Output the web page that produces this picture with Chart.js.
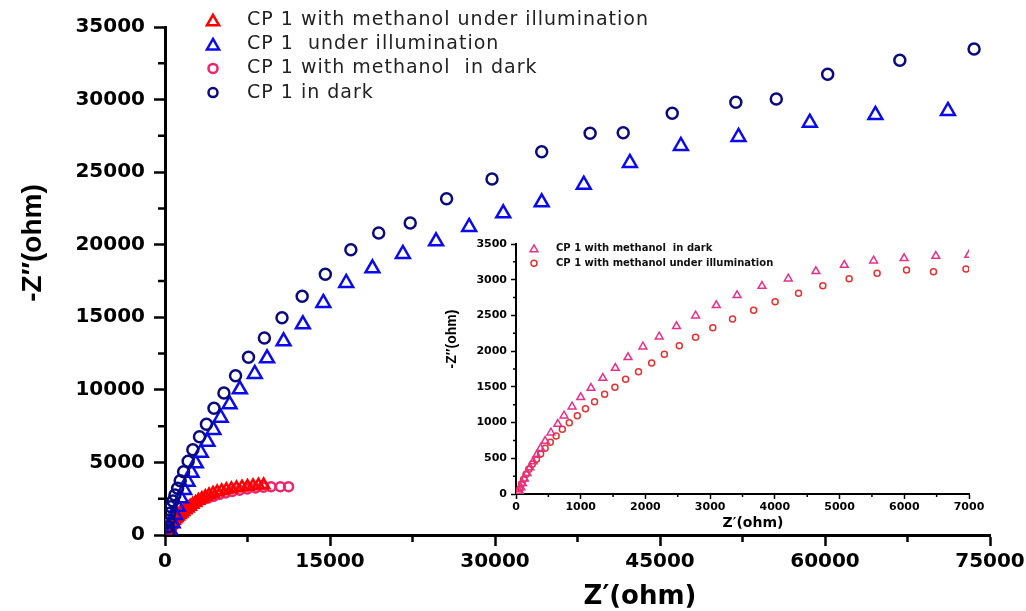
<!DOCTYPE html>
<html>
<head>
<meta charset="utf-8">
<script src="https://cdn.jsdelivr.net/npm/chart.js@4.4.0/dist/chart.umd.min.js"></script>
<style>
  html, body { margin: 0; padding: 0; background: #fff; }
  #wrap { position: relative; width: 1026px; height: 611px; }
  #mainChart { position: absolute; left: 0; top: 0; }
  #insetChart { position: absolute; left: 420px; top: 225px; }
</style>
</head>
<body>
<div id="wrap">
  <canvas id="mainChart" width="1026" height="611"></canvas>
  <canvas id="insetChart" width="590" height="310"></canvas>
</div>
<script>
// main plot: Z' (ohm) against -Z'' (ohm)
const methIllumZre = [48, 60, 85, 118, 155, 198, 251, 316, 380, 450, 530, 620, 716, 823, 947, 1074, 1214, 1369, 1528, 1694, 1893, 2096, 2292, 2523, 2775, 3041, 3346, 3672, 4004, 4366, 4741, 5148, 5580, 6034, 6500, 7000, 7500, 8000, 8500, 8970];
const methIllumZim = [10, 70, 140, 206, 276, 346, 416, 486, 560, 640, 724, 812, 906, 998, 1096, 1194, 1292, 1396, 1494, 1606, 1720, 1850, 1970, 2100, 2230, 2370, 2500, 2630, 2750, 2860, 2960, 3040, 3110, 3170, 3230, 3290, 3340, 3380, 3420, 3440];

const illumZre = [542, 696, 904, 1148, 1446, 1744, 2051, 2413, 2801, 3253, 3858, 4401, 5060, 5873, 6804, 8160, 9280, 10780, 12533, 14394, 16473, 18858, 21624, 24641, 27650, 30750, 34246, 38068, 42261, 46897, 52138, 58617, 64581, 71177];
const illumZim = [227, 806, 1378, 1950, 2529, 3101, 3672, 4292, 4940, 5671, 6428, 7235, 8082, 9005, 10039, 11093, 12175, 13346, 14517, 15985, 17363, 18376, 19361, 20236, 21221, 22165, 22923, 24136, 25630, 26802, 27422, 28407, 28938, 29214];

const methDarkZre = [50, 80, 125, 170, 235, 300, 385, 470, 575, 690, 825, 970, 1140, 1330, 1545, 1780, 2050, 2350, 2690, 3060, 3470, 3920, 4410, 4940, 5510, 6120, 6780, 7480, 8230, 8950, 9640, 10480, 11230];
const methDarkZim = [60, 160, 265, 390, 505, 630, 745, 870, 985, 1110, 1225, 1350, 1465, 1590, 1705, 1830, 1945, 2070, 2185, 2310, 2425, 2550, 2665, 2790, 2895, 3000, 3085, 3170, 3235, 3290, 3325, 3328, 3330];

const darkZre = [296, 296, 361, 425, 542, 723, 904, 1148, 1383, 1690, 2105, 2530, 3136, 3768, 4455, 5358, 6416, 7590, 9036, 10636, 12470, 14575, 16897, 19427, 22292, 25599, 29728, 34246, 38647, 41656, 46111, 51894, 55571, 60243, 66803, 73553];
const darkZim = [138, 572, 1033, 1498, 1950, 2343, 2756, 3218, 3741, 4361, 5078, 5877, 6773, 7627, 8730, 9784, 10976, 12244, 13573, 14972, 16446, 17962, 19657, 20808, 21497, 23171, 24528, 26409, 27677, 27718, 29055, 29813, 30040, 31742, 32707, 33485];

// inset: the two methanol runs on a smaller scale
const insetDarkZre = [55, 75, 100, 130, 170, 215, 265, 320, 380, 450, 539, 646, 742, 866, 1000, 1159, 1342, 1535, 1731, 1961, 2213, 2480, 2775, 3095, 3416, 3801, 4207, 4634, 5073, 5526, 5997, 6487, 6997];
const insetDarkZim = [35, 90, 150, 215, 290, 370, 455, 545, 640, 742, 858, 980, 1096, 1222, 1354, 1484, 1624, 1764, 1914, 2062, 2202, 2348, 2496, 2642, 2782, 2912, 3014, 3118, 3206, 3266, 3300, 3332, 3346];

const insetIllumZre = [48, 59, 85, 118, 155, 198, 251, 316, 380, 450, 530, 620, 716, 823, 947, 1074, 1214, 1369, 1528, 1694, 1893, 2096, 2292, 2523, 2775, 3041, 3346, 3672, 4004, 4366, 4741, 5148, 5580, 6034, 6451, 6953];
const insetIllumZim = [10, 70, 140, 206, 276, 346, 416, 486, 560, 640, 724, 812, 906, 998, 1096, 1194, 1292, 1396, 1494, 1606, 1712, 1834, 1956, 2076, 2194, 2328, 2450, 2572, 2692, 2810, 2916, 3014, 3090, 3136, 3112, 3150];

const xTitle = 'Z\u2032(ohm)';
const yTitle = '-Z\u2033(ohm)';

function toPoints(xs, ys) {
    return xs.map((x, i) => ({ x: x, y: ys[i] }));
}

// minor ticks, legend inside the plot and free-standing axis titles
const extras = {
    id: 'extras',
    afterDraw(chart, args, opts) {
        const ctx = chart.ctx;
        ctx.save();

        ctx.strokeStyle = '#000';
        ctx.lineWidth = opts.minorWidth;
        Object.values(chart.scales).forEach(scale => {
            const t = scale.ticks;
            ctx.beginPath();
            for (let i = 0; i < t.length - 1; i++) {
                const p = scale.getPixelForValue((t[i].value + t[i + 1].value) / 2);
                if (scale.isHorizontal()) {
                    ctx.moveTo(p, scale.top);
                    ctx.lineTo(p, scale.top + opts.minorLength);
                } else {
                    ctx.moveTo(scale.right - opts.minorLength, p);
                    ctx.lineTo(scale.right, p);
                }
            }
            ctx.stroke();
        });

        const lg = opts.legend;
        ctx.font = lg.font;
        ctx.textAlign = 'left';
        ctx.textBaseline = 'middle';
        ctx.letterSpacing = lg.letterSpacing;
        chart.data.datasets.forEach((ds, i) => {
            const y = lg.top + i * lg.rowGap;
            const r = lg.radius[ds.pointStyle];
            ctx.strokeStyle = ds.borderColor;
            ctx.fillStyle = 'rgba(0,0,0,0)';
            ctx.lineWidth = lg.borderWidth;
            const dy = ds.pointStyle === 'triangle' ? r / 4 : 0;
            Chart.helpers.drawPoint(ctx, { pointStyle: ds.pointStyle, radius: r, borderWidth: lg.borderWidth, rotation: 0 }, lg.left, y + dy);
            ctx.fillStyle = lg.color;
            ctx.fillText(ds.label, lg.textLeft, y);
        });
        ctx.letterSpacing = '0px';

        opts.titles.forEach(t => {
            ctx.save();
            ctx.font = t.font;
            ctx.fillStyle = '#000';
            ctx.textAlign = 'center';
            ctx.textBaseline = 'middle';
            ctx.translate(t.x, t.y);
            if (t.rotate) ctx.rotate(-Math.PI / 2);
            ctx.fillText(t.text, 0, 0);
            ctx.restore();
        });

        ctx.restore();
    }
};

// fixed axis box, no extra room for overhanging end labels
function fixBox(size) {
    return s => {
        if (s.isHorizontal()) s.height = size; else s.width = size;
        s.paddingLeft = 0;
        s.paddingRight = 0;
        s.paddingTop = 0;
        s.paddingBottom = 0;
    };
}

function axis(min, max, step, boxSize, size, tickLen, tickW, borderW, pad) {
    return {
        type: 'linear',
        min: min,
        max: max,
        afterFit: fixBox(boxSize),
        border: { color: '#000', width: borderW },
        grid: { drawOnChartArea: false, tickLength: tickLen, tickWidth: tickW, tickColor: '#000' },
        ticks: {
            stepSize: step,
            autoSkip: false,
            maxRotation: 0,
            padding: pad,
            color: '#000',
            font: { family: 'DejaVu Sans', weight: 'bold', size: size },
            callback: v => String(v)
        }
    };
}

new Chart(document.getElementById('mainChart'), {
    type: 'scatter',
    data: {
        datasets: [
            {
                label: 'CP 1 with methanol under illumination',
                data: toPoints(methIllumZre, methIllumZim),
                pointStyle: 'triangle', pointRadius: 6.5, borderWidth: 2.5,
                borderColor: '#ff0000', backgroundColor: 'rgba(0,0,0,0)', order: 2
            },
            {
                label: 'CP 1  under illumination',
                data: toPoints(illumZre, illumZim),
                pointStyle: 'triangle', pointRadius: 8, borderWidth: 2.5,
                borderColor: '#0a0af0', backgroundColor: 'rgba(0,0,0,0)', order: 1
            },
            {
                label: 'CP 1 with methanol  in dark',
                data: toPoints(methDarkZre, methDarkZim),
                pointStyle: 'circle', pointRadius: 4.5, borderWidth: 2.5,
                borderColor: '#f2246e', backgroundColor: 'rgba(0,0,0,0)', order: 3
            },
            {
                label: 'CP 1 in dark',
                data: toPoints(darkZre, darkZim),
                pointStyle: 'circle', pointRadius: 5.5, borderWidth: 2.5,
                borderColor: '#0a0a80', backgroundColor: 'rgba(0,0,0,0)', order: 0
            }
        ]
    },
    options: {
        responsive: false,
        animation: false,
        layout: { padding: { top: 27, right: 36, left: 0, bottom: 0 } },
        plugins: {
            legend: { display: false },
            tooltip: { enabled: false },
            extras: {
                minorLength: 7,
                minorWidth: 2.5,
                legend: {
                    left: 213, textLeft: 247, top: 20, rowGap: 24.2,
                    font: '19px "DejaVu Sans"', letterSpacing: '1px', color: '#222',
                    radius: { triangle: 7, circle: 4.5 }, borderWidth: 2.5
                },
                titles: [
                    { text: xTitle, x: 640, y: 597, font: 'bold 26px "DejaVu Sans"' },
                    { text: yTitle, x: 33, y: 243, rotate: true, font: 'bold 28px "Liberation Sans"' }
                ]
            }
        },
        scales: {
            x: axis(0, 75000, 15000, 76, 20, 11, 2.5, 3, 4),
            y: axis(0, 35000, 5000, 165, 20, 11, 2.5, 3, 9)
        }
    },
    plugins: [extras]
});

new Chart(document.getElementById('insetChart'), {
    type: 'scatter',
    data: {
        datasets: [
            {
                label: 'CP 1 with methanol  in dark',
                data: toPoints(insetDarkZre, insetDarkZim),
                pointStyle: 'triangle', pointRadius: 4.5, borderWidth: 1.5,
                borderColor: '#e8308a', backgroundColor: 'rgba(0,0,0,0)'
            },
            {
                label: 'CP 1 with methanol under illumination',
                data: toPoints(insetIllumZre, insetIllumZim),
                pointStyle: 'circle', pointRadius: 3, borderWidth: 1.5,
                borderColor: '#e83030', backgroundColor: 'rgba(0,0,0,0)'
            }
        ]
    },
    options: {
        responsive: false,
        animation: false,
        layout: { padding: { top: 19, right: 41, left: 0, bottom: 0 } },
        plugins: {
            legend: { display: false },
            tooltip: { enabled: false },
            extras: {
                minorLength: 3,
                minorWidth: 1.5,
                legend: {
                    left: 114, textLeft: 136, top: 23.3, rowGap: 15,
                    font: 'bold 10px "DejaVu Sans"', letterSpacing: '0px', color: '#111',
                    radius: { triangle: 4.5, circle: 3 }, borderWidth: 1.5
                },
                titles: [
                    { text: xTitle, x: 333, y: 298, font: 'bold 14px "DejaVu Sans"' },
                    { text: yTitle, x: 32, y: 114, rotate: true, font: 'bold 14px "Liberation Sans"' }
                ]
            }
        },
        scales: {
            x: axis(0, 7000, 1000, 41, 11, 5, 1.5, 2, 2),
            y: axis(0, 3500, 500, 96, 11, 5, 1.5, 2, 4)
        }
    },
    plugins: [extras]
});
</script>
</body>
</html>
